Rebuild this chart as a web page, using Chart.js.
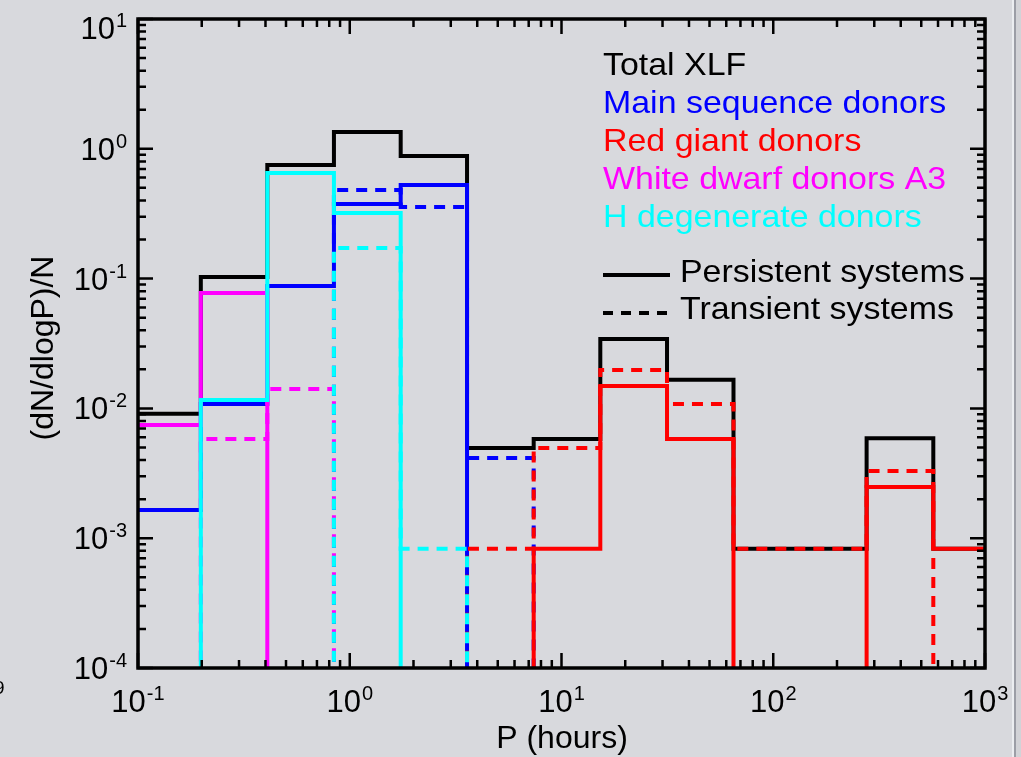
<!DOCTYPE html>
<html>
<head>
<meta charset="UTF-8">
<title>(dN/dlogP)/N vs P (hours)</title>
<script src="https://cdn.jsdelivr.net/npm/chart.js@4.4.1/dist/chart.umd.min.js"></script>
<style>
body {
  margin: 0;
  background: #d8d9dd;
  overflow: hidden;
}
#wrap {
  position: relative;
  width: 1021px;
  height: 757px;
}
.edge1 { position: absolute; left: 1012px; top: 0; width: 2px; height: 757px; background: #eceef1; }
.edge2 { position: absolute; left: 1014px; top: 0; width: 2px; height: 757px; background: #9c9ea6; }
.edge3 { position: absolute; left: 1016px; top: 0; width: 5px; height: 757px; background: #d2d3d7; }
</style>
</head>
<body>
<div id="wrap">
<canvas id="myChart"></canvas>
<div class="edge1"></div><div class="edge2"></div><div class="edge3"></div>
</div>
<script>
// bin edges in hours (log-spaced), one more than the number of bins
var edges = [0.096, 0.198, 0.408, 0.842, 1.74, 3.58, 7.39, 15.25, 31.5, 64.9, 134, 276, 570, 1177];

// (dN/dlogP)/N per bin, 0 = empty bin
var totalXLF   = [0.0091, 0.103, 0.75, 1.35, 0.88, 0.00495, 0.0058, 0.0343, 0.0166, 0.00083, 0.00083, 0.0059, 0.00083];
var msPers     = [0.00165, 0.0108, 0.0877, 0.376, 0.526, 0, 0, 0, 0, 0, 0, 0, 0];
var msTrans    = [0, 0, 0, 0.482, 0.356, 0.00415, 0, 0, 0, 0, 0, 0, 0];
var rgPers     = [0, 0, 0, 0, 0, 0, 0.00083, 0.0149, 0.0058, 0, 0, 0.00248, 0.00083];
var rgTrans    = [0, 0, 0, 0, 0, 0.00083, 0.00495, 0.0198, 0.0108, 0.00083, 0.00083, 0.0033, 0];
var wdPers     = [0.00745, 0.0775, 0, 0, 0, 0, 0, 0, 0, 0, 0, 0, 0];
var wdTrans    = [0, 0.0058, 0.0141, 0, 0, 0, 0, 0, 0, 0, 0, 0, 0];
var hdPers     = [0, 0.0116, 0.652, 0.32, 0, 0, 0, 0, 0, 0, 0, 0, 0];
var hdTrans    = [0, 0, 0, 0.172, 0.00083, 0, 0, 0, 0, 0, 0, 0, 0];

var xTickExp = [-1, 0, 1, 2, 3];
var yTickExp = [-4, -3, -2, -1, 0, 1];

var legendNames  = ["Total XLF", "Main sequence donors", "Red giant donors", "White dwarf donors A3", "H degenerate donors"];
var legendColors = ["#000000", "#0000ff", "#ff0000", "#ff00ff", "#00ffff"];

var FONT = '"Liberation Sans", Arial, Helvetica, sans-serif';
var DASH = [11, 8];

// turn bin values into stepped points; empty bins drop below the axis
function steps(vals) {
  var pts = [];
  for (var i = 0; i < vals.length; i++) {
    pts.push({x: edges[i], y: vals[i] > 0 ? vals[i] : 1e-9});
  }
  pts.push({x: edges[vals.length], y: 1e-9});
  return pts;
}

function series(vals, color, dashed) {
  return {
    data: steps(vals),
    borderColor: color,
    borderWidth: 4,
    borderDash: dashed ? DASH : [],
    stepped: true,
    fill: false,
    pointRadius: 0,
    clip: 0,
    borderCapStyle: 'butt',
    borderJoinStyle: 'miter'
  };
}

// first dataset ends up on top
var datasets = [
  series(hdTrans, "#00ffff", true),
  series(hdPers, "#00ffff", false),
  series(wdTrans, "#ff00ff", true),
  series(wdPers, "#ff00ff", false),
  series(rgTrans, "#ff0000", true),
  series(rgPers, "#ff0000", false),
  series(msTrans, "#0000ff", true),
  series(msPers, "#0000ff", false),
  series(totalXLF, "#000000", false)
];

function drawPow(ctx, exp, x, base, align) {
  ctx.font = '31px ' + FONT;
  var wb = ctx.measureText('10').width;
  ctx.font = '20px ' + FONT;
  var we = ctx.measureText(String(exp)).width;
  var tot = wb + 1 + we;
  var left = align === 'right' ? x - tot : x - tot / 2;
  ctx.textAlign = 'left';
  ctx.textBaseline = 'alphabetic';
  ctx.font = '31px ' + FONT;
  ctx.fillText('10', left, base);
  ctx.font = '20px ' + FONT;
  ctx.fillText(String(exp), left + wb + 1, base - 12);
}

// legend text in the original is a little wider than Arial
function wideText(ctx, s, x, y) {
  ctx.save();
  ctx.translate(x, y);
  ctx.scale(1.06, 1);
  ctx.fillText(s, 0, 0);
  ctx.restore();
}

var frame = {
  id: 'frame',
  afterDraw: function(chart) {
    var ctx = chart.ctx, a = chart.chartArea;
    var xs = chart.scales.x, ys = chart.scales.y;
    ctx.save();
    ctx.strokeStyle = '#000';
    ctx.fillStyle = '#000';

    // inward ticks on all four sides
    ctx.lineWidth = 2.5;
    ctx.beginPath();
    for (var k = -1; k <= 3; k++) {
      for (var m = 1; m <= 9; m++) {
        var v = m * Math.pow(10, k);
        if (v > 1000.0001) break;
        var px = xs.getPixelForValue(v);
        var len = m === 1 ? 15 : 8;
        ctx.moveTo(px, a.bottom); ctx.lineTo(px, a.bottom - len);
        ctx.moveTo(px, a.top); ctx.lineTo(px, a.top + len);
      }
    }
    for (var k = -4; k <= 1; k++) {
      for (var m = 1; m <= 9; m++) {
        var v = m * Math.pow(10, k);
        if (v > 10.0001) break;
        var py = ys.getPixelForValue(v);
        var len = m === 1 ? 15 : 8;
        ctx.moveTo(a.left, py); ctx.lineTo(a.left + len, py);
        ctx.moveTo(a.right, py); ctx.lineTo(a.right - len, py);
      }
    }
    ctx.stroke();

    // box
    ctx.lineWidth = 3.5;
    ctx.strokeRect(a.left, a.top, a.right - a.left, a.bottom - a.top);

    // tick labels
    xTickExp.forEach(function(e) {
      drawPow(ctx, e, xs.getPixelForValue(Math.pow(10, e)), 712, 'center');
    });
    yTickExp.forEach(function(e) {
      var base = Math.max(ys.getPixelForValue(Math.pow(10, e)) + 11, 39);
      drawPow(ctx, e, 127, base, 'right');
    });

    // axis titles
    ctx.font = '32px ' + FONT;
    ctx.textAlign = 'center';
    ctx.textBaseline = 'alphabetic';
    ctx.fillText('P (hours)', 562, 748);
    ctx.save();
    ctx.translate(53, 348);
    ctx.rotate(-Math.PI / 2);
    ctx.fillText('(dN/dlogP)/N', 0, 0);
    ctx.restore();

    // stray label cut at the left edge
    ctx.font = '19px ' + FONT;
    ctx.textAlign = 'left';
    ctx.fillText('9', -6, 694);

    // legend
    ctx.font = '32px ' + FONT;
    ctx.textAlign = 'left';
    legendNames.forEach(function(n, i) {
      ctx.fillStyle = legendColors[i];
      wideText(ctx, n, 603, 75 + 38 * i);
    });
    ctx.fillStyle = '#000';
    wideText(ctx, 'Persistent systems', 680, 282);
    wideText(ctx, 'Transient systems', 680, 319);
    ctx.lineWidth = 4;
    ctx.beginPath();
    ctx.moveTo(603, 275); ctx.lineTo(670, 275);
    ctx.stroke();
    ctx.setLineDash([10, 8]);
    ctx.beginPath();
    ctx.moveTo(603, 313); ctx.lineTo(670, 313);
    ctx.stroke();
    ctx.restore();
  }
};

new Chart(document.getElementById("myChart"), {
  type: 'line',
  data: {datasets: datasets},
  options: {
    responsive: true,
    maintainAspectRatio: false,
    animation: false,
    layout: {padding: {left: 138, right: 36, top: 19, bottom: 89}},
    plugins: {legend: {display: false}, tooltip: {enabled: false}},
    scales: {
      x: {type: 'logarithmic', min: 0.1, max: 1000, display: false},
      y: {type: 'logarithmic', min: 1e-4, max: 10, display: false}
    }
  },
  plugins: [frame]
});
</script>
</body>
</html>
